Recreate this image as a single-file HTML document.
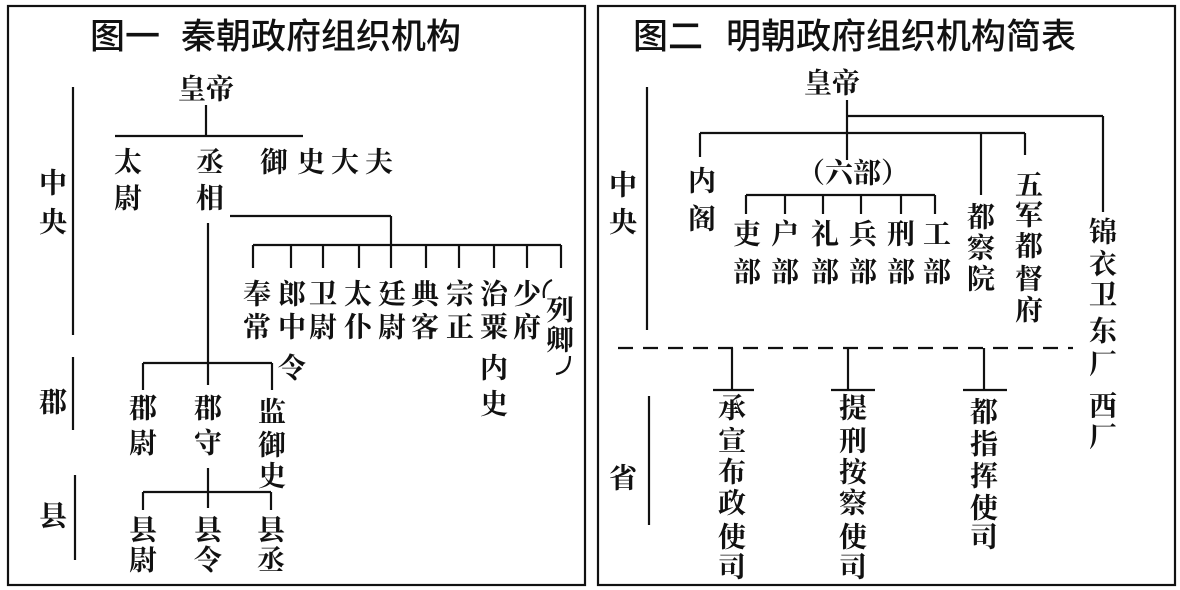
<!DOCTYPE html>
<html><head><meta charset="utf-8"><style>
html,body{margin:0;padding:0;background:#fff;}
svg{display:block;}
text{font-family:"Liberation Serif","Noto Serif CJK SC",serif;font-weight:bold;fill:#111;text-anchor:middle;dominant-baseline:central;}
.t{font-size:35px;font-family:"Liberation Sans","Noto Sans CJK SC",sans-serif;font-weight:500;}
.n{font-size:28px;}
line,path,rect{stroke:#111;stroke-width:2.2;fill:none;}
</style></head><body>
<svg width="1180" height="590" viewBox="0 0 1180 590">
<rect x="0" y="0" width="1180" height="590" style="fill:#fff;stroke:none"/>
<!-- Left panel -->
<rect x="8" y="6" width="577" height="579"/>
<text class="t" x="125" y="37">图一</text>
<text class="t" x="321" y="37">秦朝政府组织机构</text>
<text class="n" x="206" y="90">皇帝</text>
<line x1="206" y1="105" x2="206" y2="136"/>
<line x1="115" y1="136" x2="303" y2="136"/>
<text class="n" x="128" y="163">太</text><text class="n" x="128" y="199">尉</text>
<text class="n" x="210" y="163">丞</text><text class="n" x="210" y="199">相</text>
<text class="n" x="274" y="163">御</text><text class="n" x="311" y="163">史</text><text class="n" x="345" y="163">大</text><text class="n" x="379" y="163">夫</text>
<line x1="230" y1="216" x2="391" y2="216"/>
<line x1="391" y1="216" x2="391" y2="245"/>
<line x1="253" y1="245" x2="561" y2="245"/>
<line x1="253" y1="245" x2="253" y2="268"/><line x1="291" y1="245" x2="291" y2="268"/><line x1="323" y1="245" x2="323" y2="268"/><line x1="359" y1="245" x2="359" y2="268"/><line x1="391" y1="245" x2="391" y2="268"/><line x1="426" y1="245" x2="426" y2="268"/><line x1="459" y1="245" x2="459" y2="268"/><line x1="494" y1="245" x2="494" y2="268"/><line x1="527" y1="245" x2="527" y2="268"/><line x1="561" y1="245" x2="561" y2="268"/>
<text class="n" x="257" y="295">奉</text><text class="n" x="257" y="328">常</text>
<text class="n" x="292" y="295">郎</text><text class="n" x="292" y="328">中</text><text class="n" x="292" y="369">令</text>
<text class="n" x="323" y="295">卫</text><text class="n" x="323" y="328">尉</text>
<text class="n" x="358" y="295">太</text><text class="n" x="358" y="328">仆</text>
<text class="n" x="392" y="295">廷</text><text class="n" x="392" y="328">尉</text>
<text class="n" x="425" y="295">典</text><text class="n" x="425" y="328">客</text>
<text class="n" x="460" y="295">宗</text><text class="n" x="460" y="328">正</text>
<text class="n" x="494" y="295">治</text><text class="n" x="494" y="328">粟</text><text class="n" x="494" y="369">内</text><text class="n" x="494" y="405">史</text>
<text class="n" x="527" y="295">少</text><text class="n" x="527" y="328">府</text>
<path d="M552 280 Q542 284 544 298"/>
<text class="n" x="560" y="311">列</text><text class="n" x="560" y="341">卿</text>
<path d="M570 356 Q570 372 556 374"/>
<line x1="208" y1="223" x2="208" y2="385"/>
<line x1="143" y1="363" x2="272" y2="363"/>
<line x1="143" y1="363" x2="143" y2="390"/><line x1="272" y1="363" x2="272" y2="390"/>
<text class="n" x="143" y="409">郡</text><text class="n" x="143" y="444">尉</text>
<text class="n" x="208" y="409">郡</text><text class="n" x="208" y="444">守</text>
<text class="n" x="272" y="413">监</text><text class="n" x="272" y="446">御</text><text class="n" x="272" y="477">史</text>
<line x1="208" y1="468" x2="208" y2="508"/>
<line x1="143" y1="492" x2="271" y2="492"/>
<line x1="143" y1="492" x2="143" y2="510"/><line x1="271" y1="492" x2="271" y2="510"/>
<text class="n" x="143" y="531">县</text><text class="n" x="143" y="561">尉</text>
<text class="n" x="208" y="531">县</text><text class="n" x="208" y="561">令</text>
<text class="n" x="271" y="531">县</text><text class="n" x="271" y="561">丞</text>
<text class="n" x="53" y="184">中</text><text class="n" x="53" y="223">央</text>
<line x1="73" y1="87" x2="73" y2="335"/>
<text class="n" x="53" y="403">郡</text>
<line x1="73" y1="357" x2="73" y2="430"/>
<text class="n" x="53" y="517">县</text>
<line x1="75" y1="475" x2="75" y2="560"/>
<!-- Right panel -->
<rect x="598" y="6" width="577" height="579"/>
<text class="t" x="668" y="37">图二</text>
<text class="t" x="901" y="37">明朝政府组织机构简表</text>
<text class="n" x="832" y="84">皇帝</text>
<line x1="847" y1="100" x2="847" y2="160"/>
<line x1="847" y1="116" x2="1103" y2="116"/>
<line x1="1103" y1="116" x2="1103" y2="212"/>
<line x1="700" y1="133" x2="1025" y2="133"/>
<line x1="700" y1="133" x2="700" y2="157"/>
<line x1="981" y1="133" x2="981" y2="195"/>
<line x1="1025" y1="133" x2="1025" y2="155"/>
<text class="n" x="702" y="182">内</text><text class="n" x="702" y="220">阁</text>
<text class="n" x="853" y="174">（六部）</text>
<line x1="746" y1="195" x2="935" y2="195"/>
<line x1="746" y1="195" x2="746" y2="214"/><line x1="785" y1="195" x2="785" y2="214"/><line x1="823" y1="195" x2="823" y2="214"/><line x1="861" y1="195" x2="861" y2="214"/><line x1="901" y1="195" x2="901" y2="214"/><line x1="935" y1="195" x2="935" y2="214"/>
<text class="n" x="747" y="235">吏</text><text class="n" x="747" y="273">部</text>
<text class="n" x="785" y="235">户</text><text class="n" x="785" y="273">部</text>
<text class="n" x="825" y="235">礼</text><text class="n" x="825" y="273">部</text>
<text class="n" x="863" y="235">兵</text><text class="n" x="863" y="273">部</text>
<text class="n" x="901" y="235">刑</text><text class="n" x="901" y="273">部</text>
<text class="n" x="937" y="235">工</text><text class="n" x="937" y="273">部</text>
<text class="n" x="981" y="218">都</text><text class="n" x="981" y="249">察</text><text class="n" x="981" y="280">院</text>
<text class="n" x="1029" y="186">五</text><text class="n" x="1029" y="216">军</text><text class="n" x="1029" y="247">都</text><text class="n" x="1029" y="280">督</text><text class="n" x="1029" y="311">府</text>
<text class="n" x="1103" y="233">锦</text><text class="n" x="1103" y="265">衣</text><text class="n" x="1103" y="296">卫</text><text class="n" x="1103" y="332">东</text><text class="n" x="1103" y="365">厂</text><text class="n" x="1103" y="407">西</text><text class="n" x="1103" y="438">厂</text>
<text class="n" x="623" y="186">中</text><text class="n" x="623" y="223">央</text>
<line x1="647" y1="87" x2="647" y2="330"/>
<line x1="618" y1="348" x2="1073" y2="348" style="stroke-dasharray:15 10"/>
<line x1="732" y1="348" x2="732" y2="390"/><line x1="713" y1="390" x2="754" y2="390"/>
<line x1="848" y1="348" x2="848" y2="390"/><line x1="831" y1="390" x2="875" y2="390"/>
<line x1="984" y1="348" x2="984" y2="390"/><line x1="963" y1="390" x2="1007" y2="390"/>
<text class="n" x="732" y="409">承</text><text class="n" x="732" y="442">宣</text><text class="n" x="732" y="473">布</text><text class="n" x="732" y="504">政</text><text class="n" x="732" y="538">使</text><text class="n" x="732" y="568">司</text>
<text class="n" x="853" y="409">提</text><text class="n" x="853" y="442">刑</text><text class="n" x="853" y="473">按</text><text class="n" x="853" y="504">察</text><text class="n" x="853" y="538">使</text><text class="n" x="853" y="568">司</text>
<text class="n" x="984" y="413">都</text><text class="n" x="984" y="445">指</text><text class="n" x="984" y="477">挥</text><text class="n" x="984" y="509">使</text><text class="n" x="984" y="538">司</text>
<text class="n" x="623" y="479">省</text>
<line x1="649" y1="396" x2="649" y2="525"/>
</svg>
</body></html>
